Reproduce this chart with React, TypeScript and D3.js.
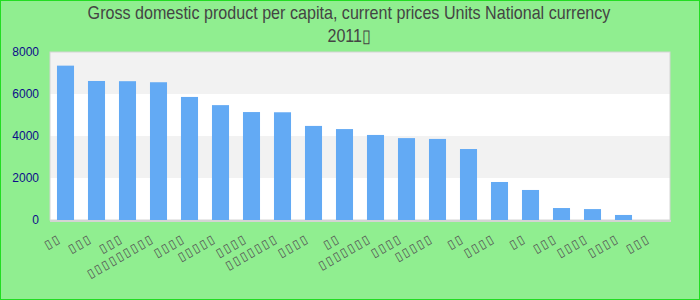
import React from "react";
import * as d3 from "d3";

// Category labels: the reference shows them only as empty boxes (missing glyphs),
// so a box character is used to reproduce the same look.
const categories: string[] = [
  "▯▯",
  "▯▯▯",
  "▯▯▯",
  "▯▯▯▯▯▯▯▯▯",
  "▯▯▯▯",
  "▯▯▯▯▯",
  "▯▯▯▯",
  "▯▯▯▯▯▯▯",
  "▯▯▯▯",
  "▯▯",
  "▯▯▯▯▯▯▯",
  "▯▯▯▯",
  "▯▯▯▯▯",
  "▯▯",
  "▯▯▯▯",
  "▯▯",
  "▯▯▯",
  "▯▯▯▯",
  "▯▯▯▯",
  "▯▯▯",
];

const values: number[] = [
  7350, 6620, 6610, 6560, 5860, 5470, 5140, 5130, 4480, 4330,
  4050, 3900, 3860, 3380, 1810, 1430, 570, 520, 240, 0,
];

const yTicks: number[] = [0, 2000, 4000, 6000, 8000];

const titleLines: string[] = [
  "Gross domestic product per capita, current prices Units National currency",
  "2011▯",
];

const W = 700;
const H = 300;
const PL = 50;
const PR = 670;
const PT = 52;
const PB = 220;

export default function App() {
  const idx = d3.range(categories.length);
  const x = d3
    .scaleBand<number>()
    .domain(idx)
    .range([PL, PR])
    .paddingInner(0.45)
    .paddingOuter(0.225);
  const y = d3.scaleLinear().domain([0, 8000]).range([PB, PT]);

  const bands = d3.pairs(yTicks).map(([a, b], i) => ({ a, b, i }));

  return (
    <svg
      width={W}
      height={H}
      style={{ position: "absolute", left: 0, top: 0, display: "block" }}
      fontFamily="'Liberation Sans', Arial, sans-serif"
    >
      <rect x={0.5} y={0.5} width={W - 1} height={H - 1} fill="#90ee90" stroke="#22dd22" strokeWidth={1} />

      <g transform="translate(349,0) scale(0.895,1)">
        {titleLines.map((t, i) => (
          <text
            key={i}
            x={0}
            y={19 + i * 23}
            textAnchor="middle"
            fontSize={18}
            fill="#444444"
          >
            {t}
          </text>
        ))}
      </g>

      {bands.map((d) => (
        <rect
          key={d.i}
          x={PL}
          y={y(d.b)}
          width={PR - PL}
          height={y(d.a) - y(d.b)}
          fill={d.i % 2 === 0 ? "#ffffff" : "#f2f2f2"}
        />
      ))}
      <rect x={PL} y={PT} width={PR - PL} height={PB - PT} fill="none" stroke="#d4d4d4" strokeWidth={1} />

      {values.map((v, i) => (
        <rect
          key={i}
          x={x(i)}
          y={y(v)}
          width={x.bandwidth()}
          height={PB - y(v)}
          fill="#63aaf4"
        />
      ))}
      <line x1={PL} x2={PR + 1} y1={PB + 1} y2={PB + 1} stroke="#d4d4d4" strokeWidth={2} />

      {yTicks.map((t) => (
        <text key={t} x={39} y={y(t)} dy="0.35em" textAnchor="end" fontSize={12} fill="#0d0d8a">
          {t}
        </text>
      ))}

      {categories.map((c, i) => {
        const cx = (x(i) as number) + x.bandwidth() / 2;
        return (
          <text
            key={i}
            transform={`translate(${cx - 9},${232}) rotate(-30)`}
            textAnchor="end"
            dy="0.85em"
            fontSize={12}
            letterSpacing={1.7}
            fontFamily="'DejaVu Sans', sans-serif"
            fill="#555555"
          >
            {c}
          </text>
        );
      })}
    </svg>
  );
}
